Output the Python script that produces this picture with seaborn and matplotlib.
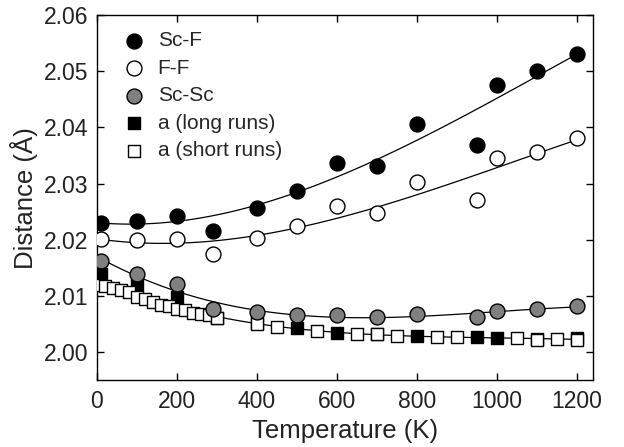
import numpy as np
import pandas as pd
import seaborn as sns
import matplotlib.pyplot as plt

# Temperatures (K) of the distance runs
temp = [10, 100, 200, 290, 400, 500, 600, 700, 800, 950, 1000, 1100, 1200]
sc_f = [2.0229, 2.0234, 2.0243, 2.0215, 2.0257, 2.0287, 2.0336, 2.0331,
        2.0407, 2.0369, 2.0476, 2.0501, 2.0531]
f_f = [2.0201, 2.0199, 2.0201, 2.0175, 2.0203, 2.0224, 2.0260, 2.0248,
       2.0302, 2.0270, 2.0345, 2.0357, 2.0381]
sc_sc = [2.0162, 2.0139, 2.0121, 2.0076, 2.0071, 2.0065, 2.0065, 2.0063,
         2.0067, 2.0063, 2.0073, 2.0076, 2.0081]

# lattice parameter, long runs
temp_long = [10, 100, 200, 300, 400, 500, 600, 700, 800, 950, 1000, 1100, 1200]
a_long = [2.0139, 2.0119, 2.0098, 2.0061, 2.0052, 2.0043, 2.0034, 2.0032,
          2.0028, 2.0026, 2.0025, 2.0023, 2.0024]

# lattice parameter, short runs
temp_short = [10, 20, 40, 60, 80, 100, 120, 140, 160, 180, 200, 220, 240,
              260, 280, 300, 400, 450, 550, 650, 700, 750, 850, 900, 1050,
              1100, 1150, 1200]
a_short = [2.0119, 2.0117, 2.0113, 2.0110, 2.0106, 2.0098, 2.0094, 2.0089,
           2.0084, 2.0081, 2.0077, 2.0074, 2.0070, 2.0068, 2.0065, 2.0060,
           2.0050, 2.0045, 2.0037, 2.0032, 2.0031, 2.0029, 2.0027, 2.0027,
           2.0024, 2.0022, 2.0023, 2.0022]

sns.set_style("ticks")
plt.rcParams['font.family'] = ['Liberation Sans', 'DejaVu Sans']

fig = plt.figure(figsize=(6.24, 4.47), dpi=100)
ax = fig.add_axes([0.155, 0.150, 0.795, 0.816])

# fitted curves
fit_kw = dict(scatter=False, ci=None, truncate=True,
              line_kws=dict(color='black', lw=0.9))
sns.regplot(x=temp, y=sc_f, order=3, ax=ax, **fit_kw)
sns.regplot(x=temp, y=f_f, order=3, ax=ax, **fit_kw)
sns.regplot(x=temp, y=sc_sc, order=3, ax=ax, **fit_kw)
sns.regplot(x=temp_long + temp_short, y=a_long + a_short, order=4, ax=ax, **fit_kw)

mk = dict(edgecolor='black', linewidth=1.0, ax=ax, zorder=3)
sns.scatterplot(x=temp_long, y=a_long, marker='s', s=72, color='black',
                label='a (long runs)', **mk)
sns.scatterplot(x=temp_short, y=a_short, marker='s', s=72, color='white',
                label='a (short runs)', **mk)
sns.scatterplot(x=temp, y=sc_sc, marker='o', s=115, color='#808080',
                label='Sc-Sc', **mk)
sns.scatterplot(x=temp, y=f_f, marker='o', s=115, color='white',
                label='F-F', **mk)
sns.scatterplot(x=temp, y=sc_f, marker='o', s=115, color='black',
                label='Sc-F', **mk)

ax.set_xlim(0, 1240)
ax.set_ylim(1.995, 2.06)
ax.set_xticks(np.arange(0, 1201, 200))
ax.set_yticks(np.arange(2.00, 2.0601, 0.01))
ax.set_yticklabels([f"{v:.2f}" for v in np.arange(2.00, 2.0601, 0.01)])
ax.tick_params(direction='in', length=5, width=1, top=True, right=True,
               labelsize=16.5, colors='black', labelcolor='#222222', pad=6)
ax.tick_params(axis='x', pad=7)
for sp in ax.spines.values():
    sp.set_linewidth(1)
    sp.set_color('black')
ax.set_xlabel('Temperature (K)', fontsize=18.5, color='#222222', labelpad=4.5)
ax.set_ylabel('Distance (Å)', fontsize=18.5, color='#222222', labelpad=4)

handles, labels = ax.get_legend_handles_labels()
order = ['Sc-F', 'F-F', 'Sc-Sc', 'a (long runs)', 'a (short runs)']
hmap = dict(zip(labels, handles))
ax.legend([hmap[l] for l in order], order, loc='upper left', frameon=False,
          fontsize=15, handlelength=2.0, handletextpad=0.15, labelspacing=0.41,
          borderpad=0.4, borderaxespad=0.37)

fig.savefig('out.png', dpi=100)
